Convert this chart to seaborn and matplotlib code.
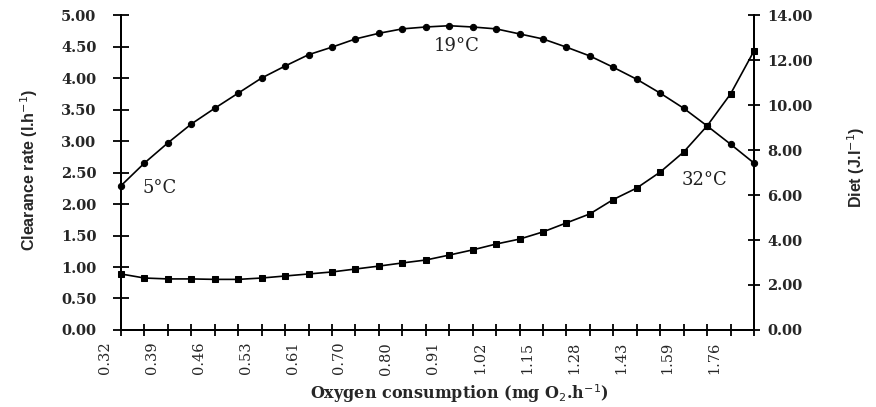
import numpy as np
import pandas as pd
import matplotlib
matplotlib.use("Agg")
import matplotlib.pyplot as plt
import matplotlib.transforms as mtransforms
import seaborn as sns

# oxygen consumption labels (every other point is labelled)
x_labels = ["0.32", "0.39", "0.46", "0.53", "0.61", "0.70", "0.80",
            "0.91", "1.02", "1.15", "1.28", "1.43", "1.59", "1.76"]

clearance = [2.29, 2.65, 2.97, 3.27, 3.52, 3.76, 4.00, 4.19, 4.37, 4.49,
             4.62, 4.71, 4.78, 4.81, 4.83, 4.81, 4.78, 4.70, 4.62, 4.49,
             4.35, 4.17, 3.98, 3.76, 3.52, 3.24, 2.95, 2.65]

diet = [2.49, 2.31, 2.27, 2.27, 2.25, 2.25, 2.31, 2.40, 2.49, 2.58,
        2.71, 2.84, 2.98, 3.11, 3.33, 3.56, 3.82, 4.04, 4.36, 4.76,
        5.16, 5.80, 6.31, 7.02, 7.91, 9.07, 10.49, 12.40]

temp_labels = ["5°C", "19°C", "32°C"]
temp_pos = [(1.66, 2.25), (14.3, 4.51), (24.9, 2.38)]

df = pd.DataFrame({
	"step": np.arange(len(clearance)),
	"clearance": clearance,
	"diet": diet,
})

sns.set_theme(style = "white")
plt.rcParams["font.family"] = ["DejaVu Serif"]

fig = plt.figure(figsize = (8.76, 4.07), dpi = 100)
ax = fig.add_axes([0.1381, 0.1892, 0.7226, 0.7739])
ax2 = ax.twinx()

sns.lineplot(data = df, x = "step", y = "clearance", ax = ax, color = "black",
	linewidth = 1.2, marker = "o", markersize = 4.5, markeredgecolor = "black", clip_on = False)
sns.lineplot(data = df, x = "step", y = "diet", ax = ax2, color = "black",
	linewidth = 1.2, marker = "s", markersize = 4.2, markeredgecolor = "black", clip_on = False)

ax.set_xlim(0, len(clearance) - 1)
ax.set_ylim(0, 5)
ax2.set_ylim(0, 14)

ax.set_xticks(np.arange(len(clearance)))
ax.set_xticklabels([x_labels[i // 2] if i % 2 == 0 else "" for i in range(len(clearance))],
	rotation = 90, fontsize = 10.5)

ax.set_yticks(np.arange(0, 5.01, 0.5))
ax.set_yticklabels([f"{v:.2f}" for v in np.arange(0, 5.01, 0.5)], fontsize = 10.5, fontweight = "bold")
ax2.set_yticks(np.arange(0, 14.01, 2))
ax2.set_yticklabels([f"{v:.2f}" for v in np.arange(0, 14.01, 2)], fontsize = 10.5, fontweight = "bold")

ax.tick_params(axis = "x", direction = "inout", length = 9, width = 1.3, pad = 4, color = "black", bottom = True)
ax.tick_params(axis = "y", direction = "inout", length = 11.5, width = 1.3, pad = 12, color = "black", left = True)
ax2.tick_params(axis = "y", direction = "inout", length = 9, width = 1.3, pad = 5, color = "black", right = True)

# the category labels sit a little left of their tick marks
shift = mtransforms.ScaledTranslation(-0.16, 0, fig.dpi_scale_trans)
for t in ax.get_xticklabels():
	t.set_transform(t.get_transform() + shift)

for a in (ax, ax2):
	a.spines["top"].set_visible(False)
	for s in ("left", "right", "bottom"):
		a.spines[s].set_color("black")
		a.spines[s].set_linewidth(1.4)
	a.grid(False)

ax.set_xlabel("Oxygen consumption (mg O$_2$.h$^{-1}$)", fontsize = 11.5, fontweight = "bold")
ax.xaxis.set_label_coords(0.535, -0.165)
ax.set_ylabel("Clearance rate (l.h$^{-1}$)", fontsize = 11.5, fontweight = "bold",
	family = ["Liberation Sans", "DejaVu Sans"])
ax.yaxis.set_label_coords(-0.128, 0.508)
ax2.set_ylabel("Diet (J.l$^{-1}$)", fontsize = 11.5, fontweight = "bold",
	family = ["Liberation Sans", "DejaVu Sans"])
ax2.yaxis.set_label_coords(1.145, 0.517)

for lab, (xp, yp) in zip(temp_labels, temp_pos):
	ax.text(xp, yp, lab, fontsize = 13, ha = "center", va = "center", color = "#222222")

plt.savefig("out.png", dpi = 100)
